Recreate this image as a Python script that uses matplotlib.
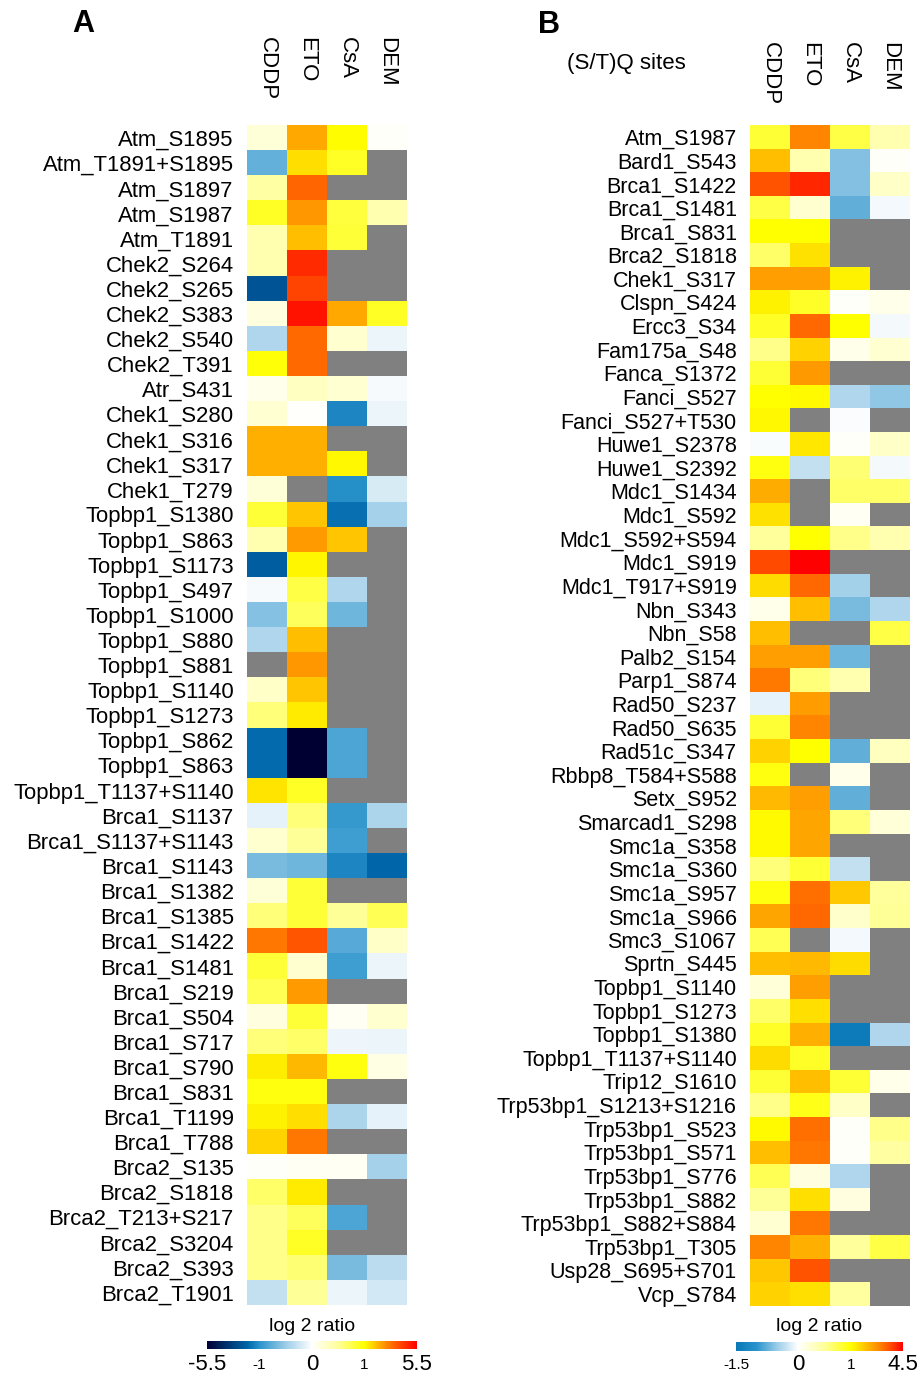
import numpy as np
import matplotlib
matplotlib.use("Agg")
import matplotlib.pyplot as plt
import matplotlib.colors as mcolors
import matplotlib.transforms as mtrans
from matplotlib.cm import ScalarMappable

plt.rcParams['font.family'] = ['Liberation Sans', 'DejaVu Sans']

N = np.nan
treatments = ['CDDP', 'ETO', 'CsA', 'DEM']

# ---- panel A: DDR sites ----
sites_a = ['Atm_S1895', 'Atm_T1891+S1895', 'Atm_S1897', 'Atm_S1987', 'Atm_T1891',
           'Chek2_S264', 'Chek2_S265', 'Chek2_S383', 'Chek2_S540', 'Chek2_T391',
           'Atr_S431', 'Chek1_S280', 'Chek1_S316', 'Chek1_S317', 'Chek1_T279',
           'Topbp1_S1380', 'Topbp1_S863', 'Topbp1_S1173', 'Topbp1_S497', 'Topbp1_S1000',
           'Topbp1_S880', 'Topbp1_S881', 'Topbp1_S1140', 'Topbp1_S1273', 'Topbp1_S862',
           'Topbp1_S863', 'Topbp1_T1137+S1140', 'Brca1_S1137', 'Brca1_S1137+S1143',
           'Brca1_S1143', 'Brca1_S1382', 'Brca1_S1385', 'Brca1_S1422', 'Brca1_S1481',
           'Brca1_S219', 'Brca1_S504', 'Brca1_S717', 'Brca1_S790', 'Brca1_S831',
           'Brca1_T1199', 'Brca1_T788', 'Brca2_S135', 'Brca2_S1818', 'Brca2_T213+S217',
           'Brca2_S3204', 'Brca2_S393', 'Brca2_T1901']
a_cddp = [0.19, -0.75, 0.45, 0.87, 0.39, 0.39, -2.6, 0.15, -0.4, 0.97,
          0.1, 0.22, 2.25, 2.25, 0.19, 0.82, 0.39, -2.3, -0.04, -0.6,
          -0.4, N, 0.27, 0.6, -1.9, -1.9, 1.4, -0.12, 0.23, -0.65,
          0.19, 0.6, 3.15, 0.82, 0.72, 0.15, 0.6, 1.25, 0.95, 1.2,
          1.7, 0.03, 0.66, 0.55, 0.55, 0.55, -0.3]
a_eto = [2.34, 1.5, 3.49, 2.6, 2.0, 4.6, 4.1, 5.08, 3.4, 3.4,
         0.3, 0.02, 2.25, 2.25, N, 1.88, 2.55, 1.12, 0.77, 0.7,
         2.0, 2.6, 1.88, 1.3, -5.5, -5.5, 0.87, 0.6, 0.5, -0.7,
         0.82, 0.82, 3.8, 0.23, 2.55, 0.82, 0.66, 2.1, 0.95, 1.5,
         3.15, 0.05, 1.3, 0.7, 0.87, 0.62, 0.5]
a_csa = [1.0, 0.87, N, 0.79, 0.82, N, N, 2.34, 0.23, N,
         0.22, -1.3, N, 1.1, -1.1, -1.8, 1.88, N, -0.4, -0.7,
         N, N, N, N, -0.85, -0.85, N, -0.95, -0.9, -1.3,
         N, 0.5, -0.8, -0.9, N, 0.06, -0.08, 0.95, N, -0.42,
         N, 0.06, N, -0.85, N, -0.65, -0.1]
a_dem = [0.03, N, N, 0.39, N, N, N, 0.87, -0.1, N,
         -0.04, -0.1, N, N, -0.2, -0.45, N, N, N, N,
         N, N, N, N, N, N, N, -0.42, N, -2.0,
         N, 0.72, 0.27, -0.1, N, 0.23, -0.1, 0.13, N, -0.12,
         N, -0.45, N, N, N, -0.35, -0.22]

# ---- panel B: (S/T)Q sites ----
sites_b = ['Atm_S1987', 'Bard1_S543', 'Brca1_S1422', 'Brca1_S1481', 'Brca1_S831',
           'Brca2_S1818', 'Chek1_S317', 'Clspn_S424', 'Ercc3_S34', 'Fam175a_S48',
           'Fanca_S1372', 'Fanci_S527', 'Fanci_S527+T530', 'Huwe1_S2378', 'Huwe1_S2392',
           'Mdc1_S1434', 'Mdc1_S592', 'Mdc1_S592+S594', 'Mdc1_S919', 'Mdc1_T917+S919',
           'Nbn_S343', 'Nbn_S58', 'Palb2_S154', 'Parp1_S874', 'Rad50_S237',
           'Rad50_S635', 'Rad51c_S347', 'Rbbp8_T584+S588', 'Setx_S952', 'Smarcad1_S298',
           'Smc1a_S358', 'Smc1a_S360', 'Smc1a_S957', 'Smc1a_S966', 'Smc3_S1067',
           'Sprtn_S445', 'Topbp1_S1140', 'Topbp1_S1273', 'Topbp1_S1380', 'Topbp1_T1137+S1140',
           'Trip12_S1610', 'Trp53bp1_S1213+S1216', 'Trp53bp1_S523', 'Trp53bp1_S571',
           'Trp53bp1_S776', 'Trp53bp1_S882', 'Trp53bp1_S882+S884', 'Trp53bp1_T305',
           'Usp28_S695+S701', 'Vcp_S784']
b_cddp = [0.82, 2.0, 3.55, 0.77, 1.0, 0.66, 2.5, 1.2, 0.87, 0.55,
          0.82, 1.0, 1.1, -0.03, 0.95, 2.3, 1.45, 0.48, 3.65, 1.55,
          0.1, 2.0, 2.5, 3.08, -0.12, 0.82, 1.7, 0.95, 2.1, 1.05,
          1.05, 0.6, 0.95, 2.4, 0.72, 2.0, 0.19, 0.66, 0.87, 1.55,
          0.82, 0.55, 1.05, 2.0, 0.72, 0.5, 0.22, 2.9, 1.88, 1.7]
b_eto = [2.9, 0.39, 4.1, 0.23, 1.0, 1.45, 2.5, 0.87, 3.27, 1.7,
         2.6, 1.05, N, 1.37, -0.3, N, N, 1.0, 4.5, 3.27,
         2.0, N, 2.5, 0.6, 2.55, 2.9, 1.0, N, 2.5, 2.4,
         2.4, 0.82, 3.2, 3.27, N, 2.1, 2.5, 1.5, 2.25, 0.87,
         2.0, 0.92, 3.2, 3.1, 0.15, 1.5, 3.1, 2.25, 3.55, 1.5]
b_csa = [0.77, -0.6, -0.6, -0.75, N, N, 1.2, 0.02, 1.0, 0.1,
         N, -0.4, -0.02, 0.03, 0.62, 0.66, 0.05, 0.55, N, -0.45,
         -0.65, N, -0.7, 0.39, N, N, -0.75, 0.1, -0.75, 0.6,
         N, -0.3, 1.85, 0.25, -0.06, 1.55, N, N, -1.45, N,
         0.82, 0.27, 0.02, 0.02, -0.4, 0.15, N, 0.48, N, 0.47]
b_dem = [0.39, 0.03, 0.27, -0.06, N, N, N, 0.1, -0.05, 0.22,
         N, -0.55, N, 0.27, -0.05, 0.66, N, 0.39, N, N,
         -0.4, 0.77, N, N, N, N, 0.31, N, N, 0.19,
         N, N, 0.48, 0.5, N, N, N, N, -0.4, N,
         0.1, N, 0.55, 0.45, N, N, N, 0.77, N, N]

# colour scale: value anchors -> position on the bar, and colour stops
a_anchor = [-5.5, -1, 0, 1, 5.5]
a_pos = [0, 0.25, 0.5, 0.75, 1]
a_stops = [(-5.5, '#000033'), (-3, '#004a8a'), (-2, '#0066aa'), (-1, '#2a94cc'),
           (-0.5, '#9ccde8'), (0, '#ffffff'), (0.5, '#ffff99'), (1, '#ffff00'),
           (2, '#ffc000'), (3, '#ff8000'), (4.5, '#ff3000'), (5.5, '#ff0000')]
b_anchor = [-1.5, 0, 1, 4.5]
b_pos = [0, 0.371, 0.689, 1]
b_stops = [(-1.5, '#0a78b8'), (-1, '#2a94cc'), (-0.5, '#9ccde8'), (0, '#ffffff'),
           (0.5, '#ffff99'), (1, '#ffff00'), (2, '#ffc000'), (3, '#ff8000'),
           (4, '#ff3000'), (4.5, '#ff0000')]


def make_scale(anchor, pos, stops, name):
    fwd = lambda x: np.interp(x, anchor, pos)
    inv = lambda p: np.interp(p, pos, anchor)
    norm = mcolors.FuncNorm((fwd, inv), vmin=anchor[0], vmax=anchor[-1])
    cmap = mcolors.LinearSegmentedColormap.from_list(
        name, [(float(fwd(v)), c) for v, c in stops], N=512)
    cmap.set_bad('#808080')
    return norm, cmap


W, H = 918, 1376
fig = plt.figure(figsize=(W / 100, H / 100), dpi=100)


def box(x0, y0, x1, y1):
    return [x0 / W, 1 - y1 / H, (x1 - x0) / W, (y1 - y0) / H]


def heatmap(ax, sites, cols, norm, cmap, head_y, fs):
    data = np.array(cols, dtype=float).T
    ax.imshow(data, cmap=cmap, norm=norm, aspect='auto', interpolation='nearest')
    ax.set_yticks(range(len(sites)))
    ax.set_yticklabels(sites, fontsize=fs)
    ax.set_xticks([])
    ax.tick_params(axis='y', length=0, pad=9.5)
    for s in ax.spines.values():
        s.set_visible(False)
    tr = mtrans.blended_transform_factory(ax.transData, fig.transFigure)
    for i, t in enumerate(treatments):
        ax.text(i, 1 - head_y / H, t, transform=tr, rotation=270,
                ha='center', va='top', fontsize=16)


def colorbar(box_px, norm, cmap, ticks, labels, sizes):
    cax = fig.add_axes(box(*box_px))
    cb = fig.colorbar(ScalarMappable(norm=norm, cmap=cmap), cax=cax,
                      orientation='horizontal')
    cb.outline.set_visible(False)
    cb.set_ticks([])
    tr = mtrans.blended_transform_factory(cax.transData, fig.transFigure)
    for v, l, fs in zip(ticks, labels, sizes):
        cax.text(v, 1 - 1365 / H, l, transform=tr, ha='center', va='center',
                 fontsize=fs)
    xc = (box_px[0] + box_px[2]) / 2
    fig.text(xc / W, 1 - 1331 / H, 'log 2 ratio', ha='center', va='baseline',
             fontsize=14)


norm_a, cmap_a = make_scale(a_anchor, a_pos, a_stops, 'ddr_a')
norm_b, cmap_b = make_scale(b_anchor, b_pos, b_stops, 'ddr_b')

ax_a = fig.add_axes(box(247, 125.5, 407, 1305))
heatmap(ax_a, sites_a, [a_cddp, a_eto, a_csa, a_dem], norm_a, cmap_a, 37, 15.9)

ax_b = fig.add_axes(box(750, 125.2, 910, 1305.8))
heatmap(ax_b, sites_b, [b_cddp, b_eto, b_csa, b_dem], norm_b, cmap_b, 42, 15.5)

colorbar((207, 1341, 417, 1349), norm_a, cmap_a,
         [-5.5, -1, 0, 1, 5.5], ['-5.5', '-1', '0', '1', '5.5'],
         [16, 11, 16, 11, 16])
colorbar((736, 1342, 903, 1351), norm_b, cmap_b,
         [-1.5, 0, 1, 4.5], ['-1.5', '0', '1', '4.5'],
         [11, 16, 11, 16])

fig.text(72 / W, 1 - 32 / H, 'A', fontsize=22, fontweight='bold', va='baseline')
fig.text(538 / W, 1 - 33 / H, 'B', fontsize=22, fontweight='bold', va='baseline')
fig.text(567 / W, 1 - 64 / H, '(S/T)Q sites', fontsize=16, va='center')

fig.savefig('out.png', dpi=100)
